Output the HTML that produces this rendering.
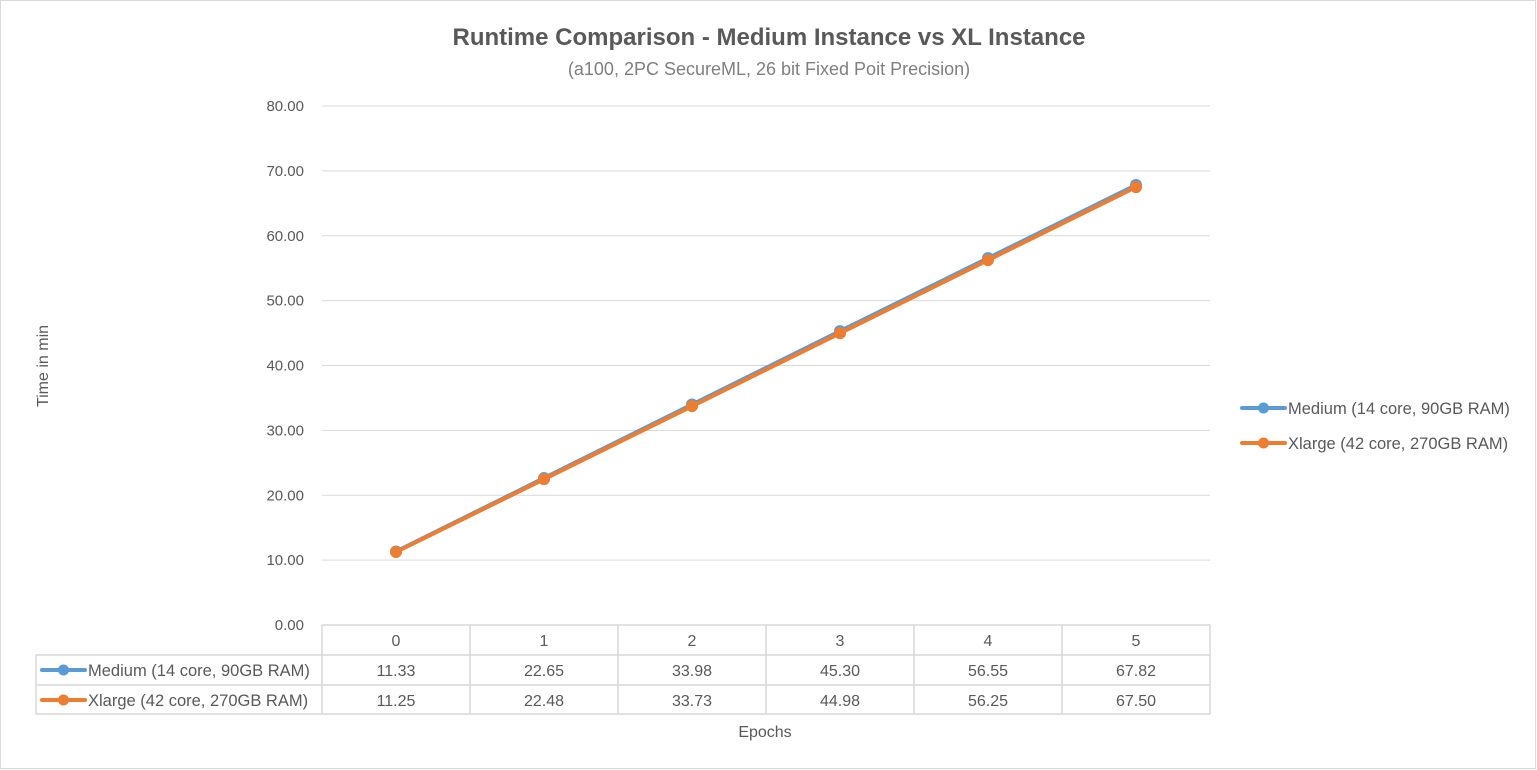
<!DOCTYPE html>
<html><head><meta charset="utf-8"><style>
html,body{margin:0;padding:0;background:#fff}
svg{display:block;font-family:"Liberation Sans",Calibri,sans-serif}
</style></head><body>
<svg id="chart" width="1537" height="770" viewBox="0 0 1537 770">
<rect x="0.5" y="0.5" width="1535" height="768" fill="#fff" stroke="#d9d9d9"/>
<text x="769" y="45" text-anchor="middle" font-size="24" font-weight="bold" fill="#595959">Runtime Comparison - Medium Instance vs XL Instance</text>
<text x="769" y="75" text-anchor="middle" font-size="18" fill="#7f7f7f">(a100, 2PC SecureML, 26 bit Fixed Poit Precision)</text>
<text transform="translate(48,366) rotate(-90)" text-anchor="middle" font-size="16" fill="#595959">Time in min</text>
<text x="765" y="737" text-anchor="middle" font-size="16" fill="#595959">Epochs</text>
<g id="grid"></g><g id="table"></g><g id="series"></g><g id="legend"></g>
</svg>
<script>
const categories = ["0","1","2","3","4","5"];
const seriesNames = ["Medium (14 core, 90GB RAM)","Xlarge (42 core, 270GB RAM)"];
const mediumValues = [11.33,22.65,33.98,45.30,56.55,67.82];
const xlargeValues = [11.25,22.48,33.73,44.98,56.25,67.50];
const yTicks = [0,10,20,30,40,50,60,70,80];
const colors = ["#5b9bd5","#ed7d31"];
const NS="http://www.w3.org/2000/svg";
const L=322,R=1210,T=106,B=625,yMax=80;
const cw=(R-L)/categories.length;
const xs=i=>L+cw*(i+0.5);
const ys=v=>B-(v/yMax)*(B-T);
function mk(tag,attrs,parent){const e=document.createElementNS(NS,tag);for(const k in attrs)e.setAttribute(k,attrs[k]);parent.appendChild(e);return e;}
const grid=document.getElementById('grid');
yTicks.forEach(t=>{
  const y=ys(t);
  if(t>0){const l=mk('line',{x1:L,x2:R,y1:y,y2:y,stroke:'#d9d9d9','stroke-width':1},grid);
  
  }
  const tx=mk('text',{x:304,y:y+5,'text-anchor':'end','font-size':15,fill:'#595959'},grid);
  tx.textContent=t.toFixed(2);
  
  
});
const tb=document.getElementById('table');
const rowY=[625,655,685,714];
const st={stroke:'#d9d9d9','stroke-width':1.5,fill:'none'};
let p=mk('path',Object.assign({d:`M${L},${rowY[0]}H${R}V${rowY[3]}H36V${rowY[1]}H${R}M36,${rowY[2]}H${R}M${L},${rowY[0]}V${rowY[3]}`},st),tb);


for(let i=1;i<categories.length;i++){
  const l=mk('line',Object.assign({x1:L+cw*i,x2:L+cw*i,y1:rowY[0],y2:rowY[3]},st),tb);
  
  
}
const allVals=[mediumValues,xlargeValues];
categories.forEach((c,i)=>{
  const t=mk('text',{x:xs(i),y:646,'text-anchor':'middle','font-size':16,fill:'#595959'},tb);
  t.textContent=c;
  
  
  allVals.forEach((vals,s)=>{
    const v=mk('text',{x:xs(i),y:676+30*s,'text-anchor':'middle','font-size':16,fill:'#595959'},tb);
    v.textContent=vals[i].toFixed(2);
    
    
  });
});
function legendKey(x,y,color,parent){
  mk('line',{x1:x,x2:x+43,y1:y,y2:y,stroke:color,'stroke-width':4,'stroke-linecap':'round'},parent);
  mk('circle',{cx:x+21.5,cy:y,r:5.5,fill:color},parent);
}
seriesNames.forEach((n,s)=>{
  const g=mk('g',{},tb);
  
  
  const y=670+30*s;
  legendKey(42,y,colors[s],g);
  const t=mk('text',{x:88,y:y+6,'font-size':16.5,fill:'#595959'},g);t.textContent=n;
});
const sg=document.getElementById('series');
allVals.forEach((vals,s)=>{
  const g=mk('g',{},sg);
  
  
  const pts=vals.map((v,i)=>xs(i)+','+ys(v)).join(' ');
  mk('polyline',{points:pts,fill:'none',stroke:colors[s],'stroke-width':4,'stroke-linejoin':'round'},g);
  vals.forEach((v,i)=>{
    const c=mk('circle',{cx:xs(i),cy:ys(v),r:6,fill:colors[s]},g);
    
    
  });
});
const lg=document.getElementById('legend');
seriesNames.forEach((n,s)=>{
  const g=mk('g',{},lg);
  
  
  const y=408+35*s;
  legendKey(1242,y,colors[s],g);
  const t=mk('text',{x:1288,y:y+6,'font-size':16.5,fill:'#595959'},g);t.textContent=n;
});
</script>
</body></html>
